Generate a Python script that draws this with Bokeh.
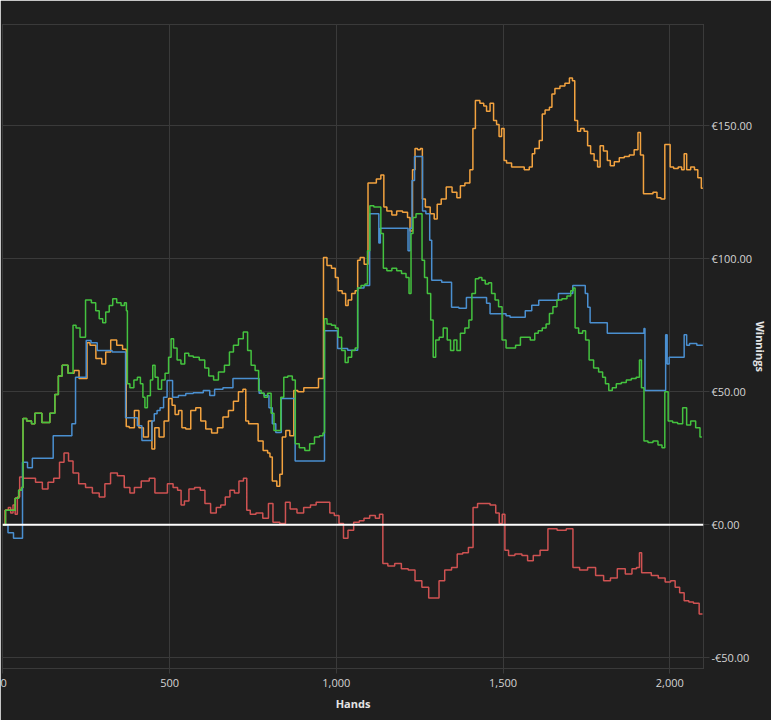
from bokeh.plotting import figure
from bokeh.models import Range1d, FixedTicker, Span
from bokeh.embed import file_html
from bokeh.resources import INLINE

# ---- axis ticks ----
x_ticks = [0, 500, 1000, 1500, 2000]
x_tick_labels = ["0", "500", "1,000", "1,500", "2,000"]
y_ticks = [-50, 0, 50, 100, 150]
y_tick_labels = ["-€50.00", "€0.00", "€50.00", "€100.00", "€150.00"]

# ---- series (hands, winnings in €) ----
orange_hands = [0, 16, 31, 43, 52, 60, 61, 82, 90, 102, 132, 150, 162, 171, 185, 206, 221, 236, 251, 254,
                269, 289, 304, 313, 334, 349, 369, 371, 387, 402, 414, 429, 444, 450, 461, 476, 491, 503, 512, 521,
                533, 541, 556, 571, 586, 601, 616, 636, 651, 669, 684, 699, 714, 726, 731, 743, 758, 773, 788, 800,
                802, 814, 829, 832, 844, 853, 868, 877, 892, 913, 936, 957, 966, 978, 993, 1001, 1010, 1025, 1031, 1040,
                1052, 1061, 1067, 1076, 1091, 1099, 1114, 1126, 1141, 1144, 1159, 1174, 1188, 1209, 1218, 1224, 1233, 1239, 1248, 1256,
                1260, 1274, 1289, 1298, 1307, 1322, 1337, 1357, 1366, 1378, 1393, 1408, 1411, 1423, 1438, 1446, 1455, 1467, 1476, 1485,
                1491, 1500, 1506, 1515, 1536, 1556, 1571, 1586, 1589, 1601, 1616, 1619, 1633, 1645, 1648, 1663, 1678, 1693, 1705, 1711,
                1719, 1728, 1737, 1749, 1758, 1767, 1779, 1788, 1794, 1808, 1817, 1826, 1841, 1856, 1871, 1886, 1900, 1909, 1915, 1927,
                1942, 1957, 1966, 1981, 1989, 1998, 2004, 2019, 2031, 2040, 2046, 2055, 2070, 2078, 2090, 2099]
orange_won = [0, 5.5, 5.5, 10, 13, 14, 40, 39, 38, 42, 38.5, 42, 49, 56, 60, 57, 58, 55, 55, 68.5,
              67.5, 62.5, 60.5, 65, 69.5, 67.5, 66, 37, 36.5, 43, 36.5, 33, 39, 28.5, 36.5, 33, 39, 47.5, 45, 41.5,
              43, 36.5, 36, 43, 44, 39, 36, 34.5, 36.5, 40.5, 43, 46.5, 50, 51, 39, 38, 38, 31.5, 28, 27,
              25.5, 16.5, 14.5, 19, 33, 35.5, 33.5, 50.5, 50, 51.5, 51.5, 55, 100.5, 97.5, 96.5, 93, 88, 87, 82.5, 84.5,
              87, 88, 99.5, 100.5, 98, 128.5, 128.5, 130, 131.5, 119.5, 118, 116.5, 118, 117.5, 115.5, 110.5, 133.5, 141.5, 141, 141.5,
              122.5, 119.5, 117, 115, 120.5, 122.5, 127, 125, 123, 127.5, 128.5, 133.5, 149, 159.5, 158.5, 157.5, 155.5, 158.5, 152, 150.5,
              146, 149, 137, 136, 134.5, 134.5, 133.5, 134.5, 139.5, 141.5, 144.5, 154.5, 156, 157, 162, 164, 165, 166, 168, 167,
              152, 148, 149, 148, 142.5, 139.5, 137, 134.5, 142.5, 140.5, 137, 135, 136.5, 138, 138.5, 139, 141, 147.5, 139, 124.5,
              124.5, 125, 123, 122.5, 143, 143, 134.5, 134, 134.5, 133.5, 139.5, 133.5, 134.5, 133.5, 130.5, 126.5]

green_hands = [0, 16, 31, 43, 52, 60, 61, 82, 90, 102, 132, 150, 162, 171, 185, 206, 215, 224, 239, 257,
               274, 283, 295, 304, 313, 325, 334, 349, 360, 369, 372, 375, 387, 399, 408, 417, 423, 429, 438, 447,
               452, 461, 470, 482, 491, 503, 506, 518, 527, 541, 550, 565, 577, 601, 610, 625, 639, 654, 675, 684,
               699, 714, 728, 740, 749, 764, 770, 779, 788, 800, 809, 817, 829, 838, 847, 862, 874, 880, 898, 913,
               927, 942, 957, 963, 966, 978, 993, 1001, 1010, 1022, 1031, 1040, 1052, 1061, 1067, 1081, 1091, 1096, 1105, 1120,
               1129, 1138, 1144, 1159, 1174, 1188, 1203, 1215, 1221, 1227, 1233, 1245, 1254, 1260, 1269, 1277, 1289, 1292, 1304, 1313,
               1328, 1337, 1348, 1357, 1366, 1378, 1393, 1402, 1411, 1423, 1432, 1441, 1452, 1461, 1470, 1482, 1491, 1503, 1515, 1530,
               1545, 1559, 1574, 1589, 1601, 1610, 1625, 1633, 1645, 1654, 1669, 1684, 1699, 1707, 1713, 1719, 1734, 1743, 1752, 1764,
               1779, 1794, 1803, 1811, 1823, 1832, 1847, 1862, 1877, 1892, 1906, 1912, 1918, 1927, 1942, 1957, 1972, 1981, 1989, 2001,
               2016, 2031, 2046, 2055, 2070, 2085, 2096]
green_won = [0, 5.5, 5.5, 10, 13, 14, 40, 39, 38, 42, 38.5, 42, 49, 56, 60, 57, 75, 74, 70.5, 84.5,
             83.5, 80.5, 77.5, 76, 80, 82.5, 85, 83.5, 82.5, 83.5, 80.5, 53, 51.5, 54.5, 55.5, 53, 48, 44, 48.5, 54.5,
             60, 55.5, 51, 54.5, 57, 63, 70, 66.5, 62, 60.5, 64.5, 63.5, 63, 62, 59, 56, 54.5, 57.5, 60, 65,
             67.5, 70, 72.5, 65.5, 60, 58, 50.5, 49.5, 48, 49.5, 42, 35.5, 35.5, 48, 55.5, 56, 54.5, 30.5, 29, 28,
             30.5, 33, 33.5, 34.5, 77.5, 75.5, 75, 74, 70.5, 65.5, 61, 63, 65.5, 66.5, 89, 90, 90.5, 103, 120, 119.5,
             119.5, 109.5, 96.5, 95.5, 96.5, 95.5, 94.5, 93, 87, 109.5, 115.5, 117, 117, 99.5, 93, 87, 77, 63, 69.5, 70.5,
             74, 69.5, 65.5, 69.5, 65.5, 72, 74, 77, 87, 92.5, 93, 92, 90.5, 91, 87, 84.5, 82, 69.5, 66.5, 66.5,
             67.5, 70.5, 70.5, 69.5, 72, 73, 74, 75.5, 79.5, 82, 84.5, 85, 86, 88, 89, 74, 72, 73, 69.5, 62,
             59, 57.5, 55.5, 53, 50.5, 51.5, 53, 53.5, 54.5, 55, 55.5, 62, 51.5, 31.5, 31, 31.5, 30, 29, 50, 39,
             38.5, 38, 44, 37.5, 39, 36.5, 33]

blue_hands = [0, 31, 33, 58, 60, 88, 89, 150, 152, 206, 208, 215, 221, 248, 252, 277, 289, 366, 370, 399,
              408, 426, 444, 450, 458, 467, 476, 488, 497, 506, 512, 541, 556, 586, 616, 625, 645, 675, 705, 764,
              773, 794, 802, 814, 823, 832, 838, 874, 879, 963, 966, 1001, 1007, 1061, 1067, 1099, 1101, 1126, 1129, 1135,
              1212, 1218, 1224, 1230, 1239, 1257, 1260, 1277, 1283, 1289, 1343, 1348, 1387, 1393, 1446, 1455, 1467, 1506, 1512, 1530,
              1565, 1568, 1604, 1610, 1663, 1669, 1707, 1711, 1743, 1750, 1758, 1764, 1811, 1814, 1921, 1924, 1927, 1986, 1989, 1995,
              2001, 2040, 2046, 2055, 2063, 2099]
blue_won = [0, -3, -5, -5, 23.5, 21.5, 25, 25, 33.5, 33.5, 38, 38, 55.5, 55.5, 69.3, 68.5, 65.5, 65, 40.3, 40.3,
            37.3, 31.7, 31.7, 39, 41.8, 43, 44, 48, 54.3, 54.3, 48, 48.6, 49.4, 49.7, 50.5, 48.6, 51, 51.5, 55, 55,
            49.5, 48.6, 44, 38, 34.7, 34.7, 47.5, 47.5, 24, 24, 73, 73, 66.3, 65.6, 89, 90, 117, 117, 106, 111.5,
            111.5, 103, 111.5, 129.5, 138.5, 138.5, 118, 117, 107, 92, 91.2, 81.8, 81.4, 85.5, 85.5, 83.3, 79.4, 79.4, 78.6, 78,
            78, 80.5, 82.6, 84.4, 84.4, 87, 87, 90, 90, 87, 81.8, 76, 76, 72, 72, 73.8, 50.5, 50.5, 71.5, 60.5,
            63, 63, 71.5, 67.5, 68.2, 67.5]

red_hands = [0, 13, 20, 27, 34, 40, 47, 54, 68, 88, 108, 129, 142, 163, 177, 190, 204, 217, 238, 258,
             279, 299, 313, 333, 354, 374, 388, 401, 429, 449, 463, 483, 504, 517, 531, 538, 551, 565, 585, 599,
             613, 633, 647, 660, 674, 688, 701, 715, 728, 735, 749, 769, 790, 803, 817, 844, 851, 872, 892, 912,
             933, 946, 974, 987, 1001, 1015, 1028, 1042, 1062, 1076, 1090, 1110, 1124, 1135, 1144, 1165, 1185, 1205, 1226, 1246,
             1267, 1287, 1301, 1315, 1335, 1356, 1369, 1389, 1403, 1417, 1430, 1451, 1471, 1485, 1492, 1503, 1508, 1525, 1546, 1567,
             1580, 1601, 1621, 1648, 1676, 1703, 1716, 1743, 1764, 1791, 1812, 1832, 1853, 1880, 1893, 1907, 1911, 1920, 1934, 1955,
             1976, 1996, 2009, 2023, 2036, 2050, 2064, 2078, 2098]
red_won = [0, 5.5, 6.5, 4.5, 7.5, 4, 10.5, 18, 17.5, 17.5, 16, 13.5, 16, 17.5, 23.5, 27, 24, 19.5, 15.5, 14,
           12, 10.5, 15.5, 19.5, 18.5, 14, 12, 14, 16.5, 17.5, 12, 12, 15.5, 14, 13, 7.5, 9, 13.5, 14, 13,
           8, 4.5, 6.5, 7.5, 10.5, 13, 12, 16.5, 17.5, 5.5, 4, 4.5, 2.5, 8, 1, 0.5, 8.5, 6, 4.5, 6.5,
           7.5, 8.5, 8.5, 4.5, 3.5, 0.5, -5, -2, 1, 1.5, 2.5, 3.5, 2.5, 4, -14.5, -15.5, -14.5, -16.5, -17, -21,
           -23.5, -27.5, -27.5, -21, -17, -16, -11, -10.5, -8.5, 6.5, 8, 8, 7.5, 4.5, 0.5, 4, -9.5, -11.5, -11, -11.5,
           -13.5, -11.5, -9.5, -1.5, -2, -1.5, -16, -17, -16, -19, -21, -20, -16.5, -18.5, -16.5, -16, -10.5, -18, -18, -19,
           -20, -21.5, -21, -23.5, -25.5, -28.5, -29, -29.5, -33.5]

BG = "#1f1f1f"
GRID = "#3a3a3a"
TXT = "#d4d4d4"
FONT = "Open Sans"

p = figure(width=771, height=720, output_backend="svg", toolbar_location=None,
           x_range=Range1d(-1, 2101), y_range=Range1d(-54, 188.1),
           y_axis_location="right",
           min_border_left=2, min_border_top=24, min_border_right=61, min_border_bottom=52,
           background_fill_color=BG, border_fill_color=BG)
p.outline_line_color = GRID
p.outline_line_width = 1

p.xaxis.ticker = FixedTicker(ticks=x_ticks)
p.xaxis.major_label_overrides = dict(zip(x_ticks, x_tick_labels))
p.yaxis.ticker = FixedTicker(ticks=y_ticks)
p.yaxis.major_label_overrides = dict(zip(y_ticks, y_tick_labels))

for ax in (p.xaxis[0], p.yaxis[0]):
    ax.axis_line_color = None
    ax.major_tick_line_color = GRID
    ax.major_tick_in = 0
    ax.minor_tick_line_color = None
    ax.major_label_text_color = TXT
    ax.major_label_text_font = FONT
    ax.major_label_text_font_size = "11px"
    ax.axis_label_text_font = FONT
    ax.axis_label_text_font_style = "bold"
    ax.axis_label_text_font_size = "11px"
    ax.axis_label_text_color = "#e4e4e4"

p.xaxis.major_tick_out = 5
p.xaxis.major_label_standoff = 5
p.yaxis.major_tick_out = 6
p.yaxis.major_label_standoff = 2

p.xaxis.axis_label = "Hands"
p.xaxis.axis_label_standoff = 6
p.yaxis.axis_label = "Winnings"
p.yaxis.axis_label_standoff = -2

p.xgrid.ticker = FixedTicker(ticks=x_ticks)
p.ygrid.ticker = FixedTicker(ticks=y_ticks)
p.grid.grid_line_color = GRID
p.grid.grid_line_width = 1

p.add_layout(Span(location=0, dimension="width", line_color="#ffffff", line_width=2))

p.step(red_hands, red_won, mode="center", line_color="#cf5252", line_width=1.5)
p.step(orange_hands, orange_won, mode="center", line_color="#f2a23f", line_width=1.5)
p.step(blue_hands, blue_won, mode="center", line_color="#4a8fd0", line_width=1.5)
p.step(green_hands, green_won, mode="center", line_color="#44c23f", line_width=1.5)

open("out.html", "w").write(file_html(p, INLINE))
